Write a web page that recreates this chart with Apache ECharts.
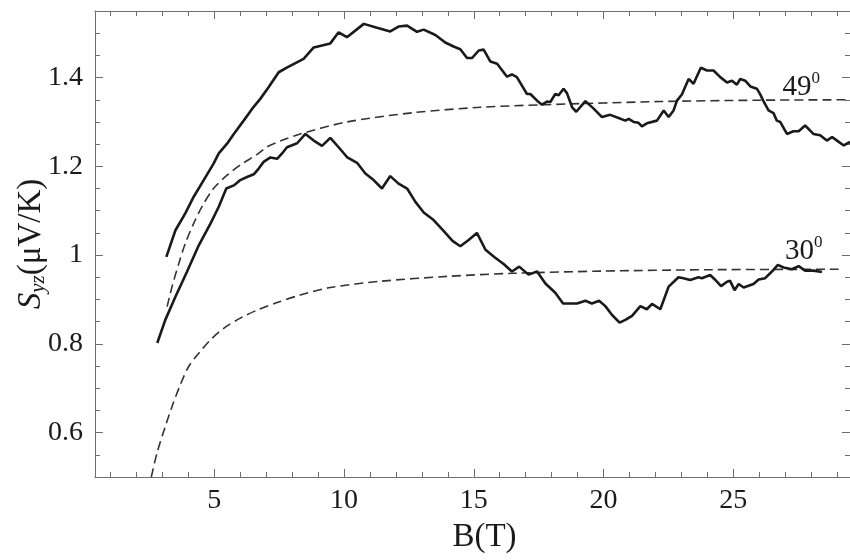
<!DOCTYPE html>
<html><head><meta charset="utf-8">
<script src="https://cdn.jsdelivr.net/npm/echarts@6/dist/echarts.min.js"></script>
<style>html,body{margin:0;padding:0;background:#fff}#c{width:850px;height:560px}</style>
</head><body><div id="c"></div>
<script>
// ---- axis ticks ----
const xMajorTicks = [5, 10, 15, 20, 25];
const xMinorTicks = [1,2,3,4,6,7,8,9,11,12,13,14,16,17,18,19,21,22,23,24,26,27,28,29];
const yMajorTicks = [0.6, 0.8, 1, 1.2, 1.4];
const yMinorTicks = [0.55,0.65,0.7,0.75,0.85,0.9,0.95,1.05,1.1,1.15,1.25,1.3,1.35,1.45,1.5];

// ---- measured S_yz(B), 49 degrees ----
const meas49 = [
[3.15,0.996],[3.50,1.056],[3.88,1.094],[4.20,1.131],[4.59,1.169],[4.97,1.206],[5.17,1.229],[5.49,1.251],[5.75,1.273],[6.13,1.303],[6.46,1.330],[6.77,1.352],[7.09,1.378],[7.48,1.412],[7.81,1.423],[8.31,1.438],[8.44,1.442],[8.83,1.468],[9.47,1.477],[9.79,1.502],[10.11,1.491],[10.76,1.521],[11.27,1.512],[11.78,1.504],[12.10,1.515],[12.43,1.517],[12.81,1.503],[13.07,1.508],[13.52,1.496],[13.90,1.479],[14.22,1.470],[14.48,1.464],[14.74,1.444],[14.93,1.444],[15.19,1.461],[15.38,1.463],[15.64,1.436],[15.90,1.431],[16.28,1.402],[16.47,1.407],[16.66,1.401],[17.05,1.363],[17.18,1.363],[17.44,1.348],[17.63,1.339],[17.82,1.346],[17.95,1.345],[18.14,1.363],[18.27,1.360],[18.46,1.375],[18.59,1.365],[18.79,1.333],[18.95,1.323],[19.30,1.347],[19.62,1.330],[19.94,1.311],[20.26,1.316],[20.58,1.309],[20.84,1.303],[20.97,1.307],[21.16,1.300],[21.35,1.298],[21.48,1.290],[21.67,1.297],[22.06,1.303],[22.32,1.326],[22.51,1.311],[22.70,1.326],[22.83,1.348],[23.02,1.362],[23.28,1.397],[23.47,1.386],[23.75,1.422],[23.99,1.416],[24.24,1.416],[24.50,1.401],[24.76,1.389],[24.95,1.393],[25.14,1.384],[25.27,1.397],[25.46,1.393],[25.66,1.380],[25.91,1.375],[26.04,1.362],[26.18,1.345],[26.36,1.326],[26.55,1.320],[26.68,1.303],[26.81,1.300],[27.07,1.273],[27.32,1.279],[27.52,1.279],[27.77,1.292],[28.09,1.273],[28.35,1.270],[28.61,1.258],[28.81,1.266],[29.00,1.258],[29.26,1.247],[29.50,1.255]
];

// ---- measured S_yz(B), 30 degrees ----
const meas30 = [
[2.80,0.802],[3.11,0.854],[3.50,0.906],[3.95,0.963],[4.40,1.022],[4.85,1.071],[5.17,1.109],[5.46,1.150],[5.75,1.157],[6.00,1.169],[6.26,1.176],[6.52,1.182],[6.71,1.195],[6.90,1.210],[7.16,1.220],[7.42,1.217],[7.61,1.229],[7.80,1.243],[8.19,1.252],[8.51,1.273],[8.83,1.258],[9.15,1.246],[9.47,1.264],[9.79,1.243],[10.11,1.221],[10.50,1.208],[10.82,1.184],[11.14,1.169],[11.46,1.150],[11.78,1.178],[12.10,1.161],[12.43,1.150],[12.75,1.120],[13.07,1.096],[13.45,1.079],[13.80,1.057],[14.18,1.032],[14.48,1.020],[14.80,1.034],[15.12,1.050],[15.45,1.012],[15.80,0.995],[16.15,0.980],[16.47,0.963],[16.75,0.974],[17.11,0.956],[17.44,0.963],[17.76,0.936],[18.14,0.915],[18.44,0.891],[18.98,0.891],[19.30,0.897],[19.55,0.891],[19.83,0.897],[20.07,0.885],[20.33,0.865],[20.62,0.848],[20.84,0.854],[21.10,0.863],[21.42,0.885],[21.67,0.878],[21.87,0.890],[22.19,0.878],[22.51,0.929],[22.89,0.950],[23.08,0.948],[23.34,0.944],[23.66,0.950],[23.79,0.948],[24.11,0.955],[24.31,0.944],[24.53,0.930],[24.76,0.940],[24.88,0.942],[25.05,0.921],[25.21,0.935],[25.40,0.927],[25.78,0.935],[25.98,0.945],[26.23,0.948],[26.49,0.963],[26.72,0.978],[26.94,0.972],[27.26,0.968],[27.52,0.975],[27.77,0.965],[28.09,0.965],[28.42,0.962]
];

// ---- fitted curves (dashed) ----
const fit49 = [
[3.18,0.884],[3.37,0.929],[3.63,0.981],[3.88,1.026],[4.20,1.071],[4.53,1.110],[4.97,1.150],[5.49,1.180],[6.00,1.203],[6.65,1.227],[7.03,1.244],[7.54,1.257],[8.31,1.273],[10.11,1.300],[12.68,1.321],[15.25,1.333],[17.82,1.339],[22.19,1.346],[26.04,1.349],[29.50,1.350]
];
const fit30 = [
[2.57,0.500],[2.79,0.554],[3.11,0.614],[3.37,0.659],[3.69,0.708],[4.01,0.749],[4.40,0.779],[4.85,0.809],[5.36,0.835],[6.00,0.858],[6.65,0.876],[7.42,0.893],[8.31,0.910],[9.47,0.927],[11.40,0.941],[13.97,0.952],[16.53,0.959],[20.00,0.964],[24.00,0.967],[29.06,0.968]
];

// ---- curve annotations ----
const annotationText = ['49', '30'];
const annotationAt = [[27.62, 1.382], [27.72, 1.012]];

const X_MIN = 0.4, X_MAX = 29.5, Y_MIN = 0.5, Y_MAX = 1.55;
const FONT = 'Liberation Serif';
const AXIS_C = '#6e6e6e';
const TEXT_C = '#1a1a1a';

function xAx(pos, ticks, len, main) {
  return {
    type: 'value', min: X_MIN, max: X_MAX, position: pos,
    axisLine: { show: main, onZero: false, lineStyle: { color: AXIS_C, width: 1 } },
    axisTick: { show: true, inside: true, length: len, customValues: ticks, lineStyle: { color: AXIS_C, width: 1 } },
    axisLabel: { show: false },
    splitLine: { show: false }
  };
}
function yAx(pos, ticks, len, main) {
  return {
    type: 'value', min: Y_MIN, max: Y_MAX, position: pos,
    axisLine: { show: main, onZero: false, lineStyle: { color: AXIS_C, width: 1 } },
    axisTick: { show: true, inside: true, length: len, customValues: ticks, lineStyle: { color: AXIS_C, width: 1 } },
    axisLabel: { show: false },
    splitLine: { show: false }
  };
}

const xBottom = xAx('bottom', xMajorTicks, 8, true);
xBottom.axisLabel = { show: true, customValues: xMajorTicks, fontFamily: FONT, fontSize: 28, color: TEXT_C, margin: 10 };
xBottom.name = 'B(T)';
xBottom.nameLocation = 'middle';
xBottom.nameGap = 44;
xBottom.nameMoveOverlap = false;
xBottom.nameTextStyle = { fontFamily: FONT, fontSize: 33, color: TEXT_C, padding: [0, 0, 0, 24] };

const yLeft = yAx('left', yMajorTicks, 8, true);
yLeft.axisLabel = { show: true, customValues: yMajorTicks, fontFamily: FONT, fontSize: 28, color: TEXT_C, margin: 12 };
yLeft.name = '{s|S}{sub|yz}{n|(μV/K)}';
yLeft.nameLocation = 'middle';
yLeft.nameRotate = 90;
yLeft.nameGap = 46;
yLeft.nameMoveOverlap = false;
yLeft.nameTextStyle = {
  rich: {
    s: { fontFamily: FONT, fontStyle: 'italic', fontSize: 33, color: TEXT_C, lineHeight: 36 },
    sub: { fontFamily: FONT, fontStyle: 'italic', fontSize: 21, color: TEXT_C, verticalAlign: 'bottom', lineHeight: 36 },
    n: { fontFamily: FONT, fontSize: 33, color: TEXT_C, lineHeight: 36 }
  }
};

const chart = echarts.init(document.getElementById('c'), null, { renderer: 'canvas' });
chart.setOption({
  animation: false,
  backgroundColor: '#fff',
  grid: { left: 95, right: 0, top: 11, bottom: 83, containLabel: false, outerBoundsMode: 'none' },
  xAxis: [xBottom, xAx('bottom', xMinorTicks, 5, false), xAx('top', xMajorTicks, 8, true), xAx('top', xMinorTicks, 5, false)],
  yAxis: [yLeft, yAx('left', yMinorTicks, 5, false), yAx('right', yMajorTicks, 8, true), yAx('right', yMinorTicks, 5, false)],
  series: [
    { type: 'line', data: meas49, showSymbol: false, lineStyle: { color: '#1a1a1a', width: 2.6 }, z: 3 },
    { type: 'line', data: meas30, showSymbol: false, lineStyle: { color: '#1a1a1a', width: 2.6 }, z: 3 },
    { type: 'line', data: fit49, showSymbol: false, smooth: 0.3, lineStyle: { color: '#333', width: 1.6, type: [9, 5] }, z: 2 },
    { type: 'line', data: fit30, showSymbol: false, smooth: 0.3, lineStyle: { color: '#333', width: 1.6, type: [9, 5] }, z: 2 },
    {
      type: 'scatter', symbol: 'circle', symbolSize: 0.01, z: 4,
      itemStyle: { opacity: 1, color: TEXT_C },
      emphasis: { disabled: true },
      data: annotationAt.map((p, i) => ({ value: p, name: annotationText[i] })),
      label: {
        show: true, position: 'inside', color: TEXT_C, textBorderWidth: 0,
        formatter: p => '{a|' + p.name + '}{b|0}',
        rich: {
          a: { fontFamily: FONT, fontSize: 29, color: TEXT_C, lineHeight: 32, verticalAlign: 'bottom' },
          b: { fontFamily: FONT, fontSize: 17, color: TEXT_C, lineHeight: 32, verticalAlign: 'top' }
        }
      }
    }
  ]
});
</script></body></html>
